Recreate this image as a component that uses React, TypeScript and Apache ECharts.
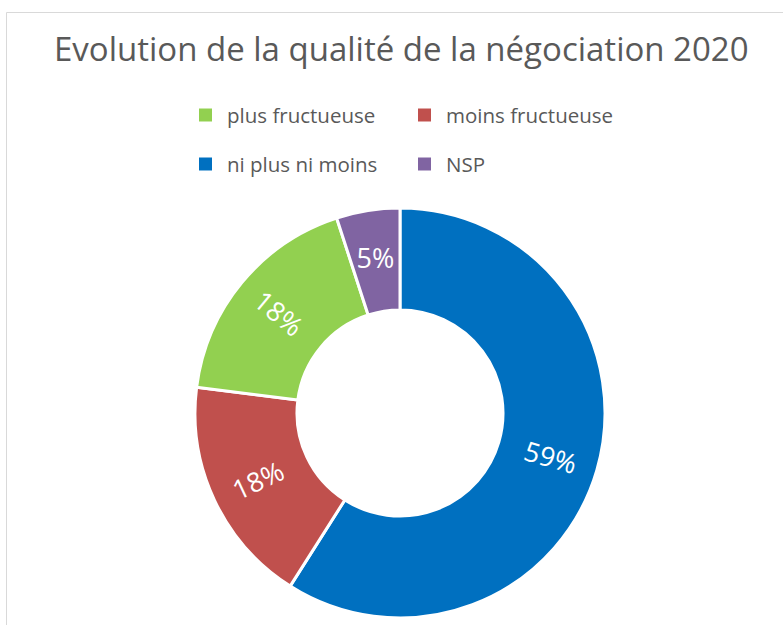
import React, { useEffect, useRef } from "react";
import * as echarts from "echarts";

const titleText = "Evolution de la qualité de la négociation 2020";
const categories = ["ni plus ni moins", "moins fructueuse", "plus fructueuse", "NSP"];
const values = [59, 18, 18, 5];
const colors = ["#0070C0", "#C0504D", "#92D050", "#8064A2"];
const legendRows = [
  ["plus fructueuse", "moins fructueuse"],
  ["ni plus ni moins", "NSP"],
];

export default function App() {
  const ref = useRef<HTMLDivElement>(null);
  useEffect(() => {
    document.body.style.margin = "0";
    const chart = echarts.init(ref.current!, undefined, { renderer: "svg" });
    const font = "'Open Sans', sans-serif";
    const colLeft = [197, 416];
    const rowCenter = [115, 164];
    const legends: any[] = [];
    legendRows.forEach((row, ri) =>
      row.forEach((name, ci) => {
        legends.push({
          data: [name],
          left: colLeft[ci],
          top: rowCenter[ri] - 13,
          padding: 0,
          itemWidth: 15,
          itemHeight: 15,
          icon: "rect",
          selectedMode: false,
          textStyle: {
            fontFamily: font,
            fontSize: 20.5,
            color: "#595959",
            padding: [0, 0, 0, 9],
            lineHeight: 26,
          },
        });
      })
    );
    chart.setOption({
      animation: false,
      color: colors,
      title: {
        text: titleText,
        left: 54,
        top: 32,
        padding: 0,
        textStyle: { fontFamily: font, fontSize: 33, fontWeight: "normal", color: "#595959" },
      },
      graphic: [
        {
          type: "rect",
          shape: { x: 6.5, y: 12.5, width: 900, height: 800 },
          style: { fill: "none", stroke: "#d9d9d9", lineWidth: 1 },
          silent: true,
        },
      ],
      legend: legends,
      series: [
        {
          type: "pie",
          center: [400, 413],
          radius: [103, 205],
          startAngle: 90,
          clockwise: true,
          itemStyle: { borderColor: "#ffffff", borderWidth: 3 },
          label: {
            show: true,
            position: "inside",
            rotate: "radial",
            formatter: "{d}%",
            color: "#ffffff",
            fontFamily: font,
            fontSize: 27,
          },
          labelLine: { show: false },
          emphasis: { disabled: true },
          data: categories.map((c, i) => ({
            name: c,
            value: values[i],
            label: c === "NSP" ? { rotate: 0 } : undefined,
          })),
        },
      ],
    });
    return () => chart.dispose();
  }, []);
  return <div ref={ref} style={{ width: 783, height: 625 }} />;
}
